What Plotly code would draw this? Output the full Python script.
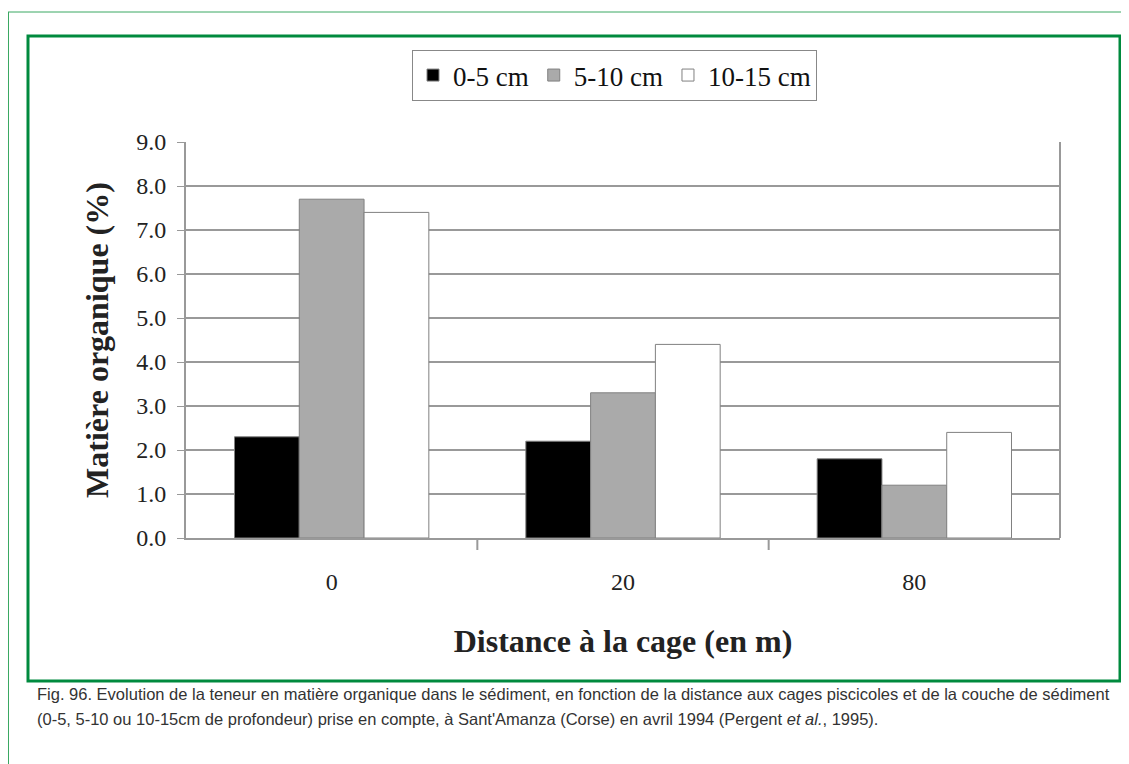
import plotly.graph_objects as go

categories = ["0", "20", "80"]
series_names = ["0-5 cm", "5-10 cm", "10-15 cm"]
values_0_5 = [2.3, 2.2, 1.8]
values_5_10 = [7.7, 3.3, 1.2]
values_10_15 = [7.4, 4.4, 2.4]
y_ticks = [0, 1, 2, 3, 4, 5, 6, 7, 8, 9]
y_tick_labels = ["0.0", "1.0", "2.0", "3.0", "4.0", "5.0", "6.0", "7.0", "8.0", "9.0"]

colors = ["#000000", "#aaaaaa", "#ffffff"]
OFF = 8  # page body margin
W, H = 1129 - OFF, 764 - OFF
L, R, T, B = 186 - OFF, 1060 - OFF, 142 - OFF, 538 - OFF

fig = go.Figure()
for name, vals, col in zip(series_names, [values_0_5, values_5_10, values_10_15], colors):
    fig.add_trace(go.Bar(x=categories, y=vals, name=name,
                         marker=dict(color=col, line=dict(color="#808080", width=1))))

serif = "Liberation Serif"


def px_x(px):
    return (px - OFF - L) / (R - L)


def px_y(py):
    return (B - (py - OFF)) / (B - T)


fig.update_layout(
    width=W, height=H,
    margin=dict(l=L, r=W - R, t=T, b=H - B, pad=0),
    paper_bgcolor="white", plot_bgcolor="white",
    barmode="group", bargap=0.333, bargroupgap=0,
    showlegend=True,
    legend=dict(orientation="h", x=px_x(412), y=px_y(50), xanchor="left", yanchor="top",
                bordercolor="#888888", borderwidth=1, bgcolor="white",
                font=dict(family=serif, size=27, color="#111111"),
                itemwidth=30, traceorder="normal"),
    font=dict(family=serif, color="#222222"),
    xaxis=dict(type="category", showline=True, linecolor="#999999", linewidth=2,
               ticks="", showgrid=False, tickfont=dict(family=serif, size=24, color="#222222"),
               ticklabelstandoff=21,
               title=dict(text="<b>Distance à la cage (en m)</b>",
                          font=dict(family=serif, size=32, color="#222222"), standoff=36),
               range=[-0.5, 2.5]),
    yaxis=dict(range=[0, 9], tickvals=y_ticks, ticktext=y_tick_labels,
               showline=True, linecolor="#999999", linewidth=2,
               ticks="outside", ticklen=7, tickcolor="#999999",
               ticklabelstandoff=6,
               showgrid=True, gridcolor="#999999", gridwidth=2,
               tickfont=dict(family=serif, size=24, color="#222222"),
               title=dict(text="<b>Matière organique (%)</b>",
                          font=dict(family=serif, size=32, color="#222222"), standoff=18),
               zeroline=False),
)

shapes = []
# right border of plot area
shapes.append(dict(type="line", xref="paper", yref="paper", x0=1, x1=1, y0=0, y1=1,
                   line=dict(color="#999999", width=2)))
# category separator ticks below x axis
for b in [0.5, 1.5]:
    shapes.append(dict(type="line", xref="x", yref="paper", x0=b, x1=b,
                       y0=0, y1=-12 / (B - T), line=dict(color="#999999", width=2)))
# inner thick green box
shapes.append(dict(type="rect", xref="paper", yref="paper",
                   x0=px_x(28), x1=px_x(1120), y0=px_y(36), y1=px_y(681),
                   line=dict(color="#008a3e", width=3), layer="below"))
# outer thin green lines (left and top)
shapes.append(dict(type="line", xref="paper", yref="paper",
                   x0=px_x(8), x1=px_x(1129), y0=px_y(12), y1=px_y(12),
                   line=dict(color="#3aa862", width=1)))
shapes.append(dict(type="line", xref="paper", yref="paper",
                   x0=px_x(8.5), x1=px_x(8.5), y0=px_y(12), y1=px_y(764),
                   line=dict(color="#3aa862", width=1)))
fig.update_layout(shapes=shapes)

caption1 = ("Fig. 96. Evolution de la teneur en matière organique dans le sédiment, en fonction de la distance "
            "aux cages piscicoles et de la couche de sédiment")
caption2 = ("(0-5, 5-10 ou 10-15cm de profondeur) prise en compte, à Sant'Amanza (Corse) en avril 1994 "
            "(Pergent <i>et al.</i>, 1995).")
for txt, ypx in [(caption1, 694), (caption2, 719)]:
    fig.add_annotation(text=txt, xref="paper", yref="paper", x=px_x(35), y=px_y(ypx),
                       xanchor="left", yanchor="middle", showarrow=False,
                       font=dict(family="Liberation Sans Narrow, Arial Narrow, Liberation Sans",
                                 size=16.5, color="#333333"))

fig.write_html("out.html")
